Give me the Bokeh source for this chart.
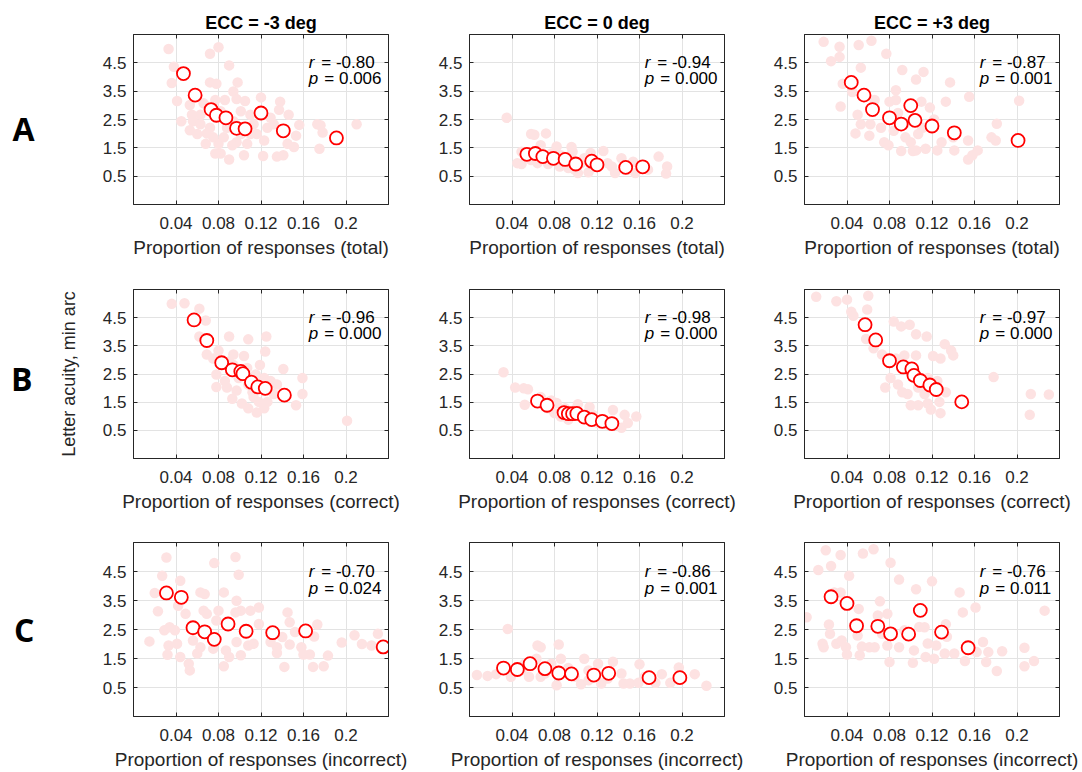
import numpy as np
from bokeh.plotting import figure
from bokeh.layouts import gridplot
from bokeh.models import FixedTicker, Label, LinearAxis
from bokeh.embed import file_html
from bokeh.resources import INLINE

FONT = "Liberation Sans"
X_TICKS = [0.04, 0.08, 0.12, 0.16, 0.2]
X_TICK_LABELS = ["0.04", "0.08", "0.12", "0.16", "0.2"]
Y_TICKS = [0.5, 1.5, 2.5, 3.5, 4.5]
COL_TITLES = ["ECC = -3 deg", "ECC = 0 deg", "ECC = +3 deg"]
ROW_LABELS = ["A", "B", "C"]
ROW_LABEL_Y = [2.2, 2.35, 2.5]
X_LABELS = ["Proportion of responses (total)",
            "Proportion of responses (correct)",
            "Proportion of responses (incorrect)"]
Y_LABEL = "Letter acuity, min arc"
R_VALUES = [["-0.80", "-0.94", "-0.87"],
            ["-0.96", "-0.98", "-0.97"],
            ["-0.70", "-0.86", "-0.76"]]
P_VALUES = [["0.006", "0.000", "0.001"],
            ["0.000", "0.000", "0.000"],
            ["0.024", "0.001", "0.011"]]

# ---------------- Row A (total) ----------------
a1_mean_x = [0.047, 0.058, 0.073, 0.078, 0.087, 0.097, 0.105, 0.120, 0.141, 0.191]
a1_mean_y = [4.12, 3.36, 2.85, 2.65, 2.56, 2.19, 2.17, 2.73, 2.10, 1.85]
a1_ind_x = [0.033, 0.080, 0.072, 0.038, 0.090, 0.036, 0.072, 0.078, 0.098, 0.094, 0.041, 0.053,
            0.066, 0.077, 0.086, 0.097, 0.105, 0.120, 0.138, 0.137, 0.146, 0.156, 0.055, 0.056,
            0.053, 0.063, 0.069, 0.068, 0.080, 0.082, 0.090, 0.104, 0.097, 0.107, 0.116, 0.123,
            0.122, 0.126, 0.132, 0.135, 0.141, 0.145, 0.151, 0.153, 0.173, 0.178, 0.175, 0.210,
            0.045, 0.063, 0.072, 0.085, 0.101, 0.113, 0.129, 0.110, 0.094, 0.088, 0.075, 0.060,
            0.082, 0.101, 0.110, 0.093, 0.077, 0.176]
a1_ind_y = [4.99, 5.05, 4.82, 4.36, 4.41, 3.79, 3.81, 3.76, 3.81, 3.49, 3.15, 3.01,
            3.07, 3.19, 3.19, 3.22, 3.15, 3.28, 3.13, 2.84, 2.67, 2.31, 2.67, 2.44,
            2.12, 2.33, 2.01, 1.64, 1.64, 1.30, 1.09, 1.24, 1.70, 1.64, 1.99, 1.76,
            1.21, 2.21, 2.33, 1.19, 1.24, 1.64, 1.53, 1.93, 2.33, 2.04, 1.47, 2.33,
            2.44, 2.67, 2.21, 1.87, 1.99, 2.33, 2.56, 2.67, 2.44, 2.21, 1.87, 1.99,
            2.79, 2.79, 1.99, 1.59, 1.30, 2.30]

a2_mean_x = [0.054, 0.062, 0.069, 0.079, 0.090, 0.100, 0.115, 0.120, 0.147, 0.163]
a2_mean_y = [1.27, 1.30, 1.19, 1.13, 1.09, 0.93, 1.03, 0.90, 0.81, 0.83]
a2_ind_x = [0.035, 0.058, 0.061, 0.072, 0.049, 0.045, 0.049, 0.067, 0.082, 0.096, 0.097, 0.058,
            0.064, 0.074, 0.085, 0.099, 0.102, 0.112, 0.114, 0.126, 0.121, 0.130, 0.137, 0.143,
            0.149, 0.156, 0.162, 0.168, 0.178, 0.186, 0.185, 0.108, 0.086, 0.077, 0.105, 0.093,
            0.134, 0.154]
a2_ind_y = [2.56, 1.99, 1.96, 2.01, 1.36, 0.96, 0.93, 1.59, 1.55, 1.53, 1.36, 1.07,
            0.96, 0.93, 0.84, 0.73, 0.61, 0.64, 1.32, 1.39, 0.84, 0.96, 0.61, 1.13,
            0.73, 0.61, 0.84, 0.73, 1.19, 0.84, 0.59, 1.13, 1.24, 1.30, 0.96, 0.79,
            0.84, 1.01]

a3_mean_x = [0.044, 0.056, 0.064, 0.080, 0.091, 0.100, 0.104, 0.120, 0.141, 0.201]
a3_mean_y = [3.81, 3.36, 2.85, 2.56, 2.34, 2.99, 2.47, 2.27, 2.03, 1.76]
a3_ind_x = [0.018, 0.033, 0.051, 0.063, 0.077, 0.025, 0.033, 0.053, 0.092, 0.112, 0.105, 0.137,
            0.036, 0.045, 0.086, 0.155, 0.133, 0.202, 0.034, 0.066, 0.080, 0.086, 0.110, 0.118,
            0.050, 0.053, 0.048, 0.061, 0.062, 0.072, 0.075, 0.079, 0.091, 0.102, 0.105, 0.114,
            0.125, 0.129, 0.122, 0.141, 0.140, 0.154, 0.154, 0.163, 0.158, 0.176, 0.180, 0.181,
            0.084, 0.095, 0.107, 0.088, 0.094, 0.100, 0.111]
a3_ind_y = [5.24, 5.07, 5.13, 5.28, 4.82, 4.56, 4.71, 4.33, 4.25, 4.18, 3.91, 3.81,
            3.76, 3.47, 3.53, 3.30, 3.13, 3.16, 2.96, 3.19, 3.13, 3.19, 3.13, 2.92,
            2.67, 2.33, 2.01, 1.93, 2.33, 2.21, 1.70, 1.59, 1.39, 1.39, 1.41, 1.47,
            1.41, 1.70, 2.50, 1.41, 1.87, 1.76, 1.09, 1.41, 1.24, 1.87, 1.76, 2.35,
            2.10, 1.87, 1.99, 2.73, 2.33, 1.70, 2.21]

# ---------------- Row B (correct) ----------------
b1_mean_x = [0.057, 0.069, 0.083, 0.093, 0.101, 0.103, 0.111, 0.117, 0.124, 0.142]
b1_mean_y = [4.42, 3.69, 2.90, 2.65, 2.59, 2.51, 2.21, 2.04, 1.99, 1.75]
b1_ind_x = [0.036, 0.048, 0.062, 0.068, 0.062, 0.090, 0.108, 0.125, 0.069, 0.075, 0.080, 0.094,
            0.104, 0.124, 0.141, 0.159, 0.159, 0.153, 0.201, 0.078, 0.078, 0.086, 0.093, 0.097,
            0.102, 0.108, 0.116, 0.123, 0.113, 0.119, 0.123, 0.129, 0.132, 0.126, 0.107, 0.094,
            0.088, 0.108, 0.115, 0.135, 0.099, 0.112, 0.118, 0.090]
b1_ind_y = [4.99, 5.01, 4.82, 4.40, 3.83, 3.83, 3.73, 3.83, 3.19, 3.05, 3.33, 3.19,
            3.14, 3.30, 2.68, 2.36, 1.79, 1.39, 0.84, 2.48, 2.04, 2.25, 1.62, 1.91,
            1.45, 1.28, 1.13, 1.28, 1.68, 2.82, 2.36, 2.25, 1.79, 1.51, 2.71, 2.82,
            2.02, 2.13, 2.48, 2.13, 2.36, 1.85, 1.51, 2.94]

b2_mean_x = [0.064, 0.073, 0.089, 0.093, 0.097, 0.101, 0.108, 0.115, 0.125, 0.134]
b2_mean_y = [1.54, 1.39, 1.13, 1.09, 1.09, 1.10, 0.97, 0.88, 0.82, 0.74]
b2_ind_x = [0.032, 0.043, 0.051, 0.055, 0.052, 0.067, 0.077, 0.082, 0.090, 0.102, 0.113, 0.080,
            0.093, 0.105, 0.121, 0.135, 0.143, 0.146, 0.149, 0.157, 0.099, 0.116, 0.127, 0.130,
            0.086, 0.074]
b2_ind_y = [2.56, 2.02, 1.99, 1.96, 1.41, 1.68, 1.56, 1.47, 1.28, 1.43, 1.33, 1.11,
            0.88, 0.99, 0.76, 1.22, 0.59, 1.05, 0.76, 0.99, 1.22, 1.05, 0.88, 0.71,
            0.99, 1.28]

b3_mean_x = [0.057, 0.067, 0.080, 0.093, 0.101, 0.103, 0.109, 0.118, 0.124, 0.148]
b3_mean_y = [4.25, 3.71, 2.97, 2.75, 2.68, 2.45, 2.27, 2.11, 1.95, 1.51]
b3_ind_x = [0.011, 0.030, 0.040, 0.060, 0.059, 0.044, 0.046, 0.084, 0.091, 0.099, 0.105, 0.115,
            0.058, 0.065, 0.073, 0.132, 0.138, 0.140, 0.121, 0.128, 0.105, 0.094, 0.086, 0.178,
            0.213, 0.230, 0.212, 0.076, 0.081, 0.088, 0.092, 0.100, 0.107, 0.116, 0.119, 0.128,
            0.127, 0.133, 0.113, 0.097, 0.107, 0.116, 0.125]
b3_ind_y = [5.24, 5.08, 5.14, 5.28, 4.79, 4.71, 4.57, 4.36, 4.19, 4.25, 3.91, 3.83,
            3.74, 3.41, 3.19, 3.56, 3.33, 3.16, 3.14, 3.05, 3.16, 3.16, 3.05, 2.39,
            1.79, 1.77, 1.05, 2.02, 2.36, 2.13, 1.85, 1.39, 1.39, 1.45, 1.24, 1.11,
            1.51, 1.85, 1.79, 1.79, 2.02, 2.36, 2.25]

# ---------------- Row C (incorrect) ----------------
c1_mean_x = [0.031, 0.045, 0.056, 0.067, 0.076, 0.089, 0.106, 0.131, 0.162, 0.235]
c1_mean_y = [3.76, 3.61, 2.56, 2.42, 2.16, 2.69, 2.44, 2.39, 2.45, 1.90]
c1_ind_x = [0.015, 0.020, 0.023, 0.027, 0.031, 0.029, 0.033, 0.032, 0.034, 0.039, 0.041, 0.044,
            0.042, 0.044, 0.049, 0.052, 0.053, 0.056, 0.063, 0.067, 0.060, 0.063, 0.066, 0.069,
            0.076, 0.080, 0.078, 0.075, 0.085, 0.087, 0.090, 0.085, 0.096, 0.099, 0.097, 0.101,
            0.096, 0.097, 0.101, 0.108, 0.113, 0.110, 0.118, 0.118, 0.129, 0.135, 0.135, 0.142,
            0.140, 0.145, 0.147, 0.147, 0.152, 0.158, 0.160, 0.166, 0.170, 0.173, 0.169, 0.179,
            0.196, 0.208, 0.215, 0.224, 0.230, 0.183]
c1_ind_y = [2.09, 3.76, 3.13, 4.35, 4.98, 2.47, 1.95, 1.63, 2.58, 2.47, 2.01, 4.18,
            3.32, 1.55, 3.04, 1.32, 1.09, 2.12, 3.78, 3.72, 1.67, 1.89, 3.15, 3.04,
            4.79, 3.15, 2.81, 1.84, 3.78, 1.78, 1.55, 1.23, 5.00, 4.39, 3.49, 3.15,
            3.09, 2.07, 1.61, 1.95, 2.01, 3.15, 3.26, 2.69, 2.07, 1.89, 1.69, 1.21,
            2.24, 3.09, 2.75, 1.98, 2.41, 1.89, 1.64, 1.64, 2.26, 2.67, 1.21, 1.23,
            2.05, 2.30, 2.00, 1.95, 2.35, 1.60]

c2_mean_x = [0.032, 0.045, 0.057, 0.071, 0.084, 0.096, 0.117, 0.131, 0.169, 0.198]
c2_mean_y = [1.17, 1.12, 1.32, 1.15, 1.00, 0.97, 0.93, 0.99, 0.84, 0.84]
c2_ind_x = [0.007, 0.017, 0.025, 0.036, 0.039, 0.052, 0.063, 0.064, 0.067, 0.056, 0.067, 0.077,
            0.084, 0.086, 0.082, 0.093, 0.105, 0.108, 0.112, 0.121, 0.124, 0.135, 0.130, 0.143,
            0.151, 0.160, 0.159, 0.165, 0.175, 0.181, 0.189, 0.197, 0.212, 0.099, 0.112, 0.145,
            0.071, 0.049, 0.223]
c2_ind_y = [0.93, 0.90, 0.96, 2.52, 0.87, 1.32, 1.49, 1.95, 1.89, 0.87, 0.87, 1.32,
            1.98, 1.49, 0.58, 1.17, 0.61, 1.49, 0.75, 1.32, 0.64, 1.39, 0.81, 0.98,
            0.64, 1.30, 0.66, 0.87, 0.66, 0.96, 0.66, 1.19, 0.96, 0.87, 1.09, 0.64,
            0.98, 1.09, 0.56]

c3_mean_x = [0.025, 0.040, 0.049, 0.069, 0.081, 0.098, 0.109, 0.129, 0.154]
c3_mean_y = [3.63, 3.40, 2.63, 2.61, 2.35, 2.34, 3.16, 2.41, 1.87]
c3_ind_x = [0.002, 0.013, 0.020, 0.025, 0.034, 0.055, 0.065, 0.042, 0.023, 0.024, 0.017, 0.018,
            0.028, 0.034, 0.030, 0.035, 0.039, 0.040, 0.050, 0.052, 0.051, 0.054, 0.061, 0.066,
            0.071, 0.069, 0.073, 0.078, 0.080, 0.081, 0.089, 0.078, 0.089, 0.105, 0.103, 0.102,
            0.108, 0.116, 0.114, 0.120, 0.122, 0.124, 0.133, 0.134, 0.132, 0.141, 0.146, 0.149,
            0.151, 0.161, 0.162, 0.168, 0.171, 0.173, 0.181, 0.186, 0.207, 0.207, 0.216, 0.226,
            0.094, 0.113]
c3_ind_y = [2.92, 4.55, 5.23, 4.69, 5.07, 5.12, 5.27, 4.35, 2.67, 2.35, 2.01, 1.89,
            3.78, 3.78, 2.01, 2.12, 1.89, 1.64, 2.29, 1.61, 3.21, 1.91, 1.89, 1.89,
            3.47, 2.98, 2.35, 3.04, 1.38, 4.80, 4.22, 1.95, 1.89, 3.89, 1.78, 1.35,
            2.59, 2.02, 1.55, 4.16, 1.49, 1.95, 2.68, 2.25, 1.67, 1.67, 3.78, 3.09,
            1.41, 3.26, 1.72, 2.07, 1.38, 1.72, 1.07, 1.75, 1.87, 1.23, 1.41, 3.15,
            2.47, 2.58]

IND = [[(a1_ind_x, a1_ind_y), (a2_ind_x, a2_ind_y), (a3_ind_x, a3_ind_y)],
       [(b1_ind_x, b1_ind_y), (b2_ind_x, b2_ind_y), (b3_ind_x, b3_ind_y)],
       [(c1_ind_x, c1_ind_y), (c2_ind_x, c2_ind_y), (c3_ind_x, c3_ind_y)]]
MEAN = [[(a1_mean_x, a1_mean_y), (a2_mean_x, a2_mean_y), (a3_mean_x, a3_mean_y)],
        [(b1_mean_x, b1_mean_y), (b2_mean_x, b2_mean_y), (b3_mean_x, b3_mean_y)],
        [(c1_mean_x, c1_mean_y), (c2_mean_x, c2_mean_y), (c3_mean_x, c3_mean_y)]]

# layout geometry (pixels)
COL_W = [420, 340, 322]
COL_L = [133, 49, 44]
FRAME_W = 255
ROW_H = [260, 254, 258]
ROW_T = [34, 29, 28]
FRAME_H = 175

AX_COLOR = "#262626"
PINK = "#fde2e2"
RED = "#ff0000"


def box_axis(ticks):
    return LinearAxis(ticker=FixedTicker(ticks=ticks), axis_line_color=AX_COLOR,
                      major_tick_line_color=AX_COLOR, major_tick_in=4, major_tick_out=0,
                      minor_tick_line_color=None, major_label_text_color=None,
                      major_label_text_font_size="1px", major_label_standoff=0)


figs = []
for r in range(3):
    row_figs = []
    for c in range(3):
        W, H = COL_W[c], ROW_H[r]
        p = figure(width=W, height=H, x_range=(0, 0.24), y_range=(-0.5, 5.5),
                   output_backend="svg", toolbar_location=None,
                   min_border_left=COL_L[c], min_border_right=W - COL_L[c] - FRAME_W,
                   min_border_top=ROW_T[r], min_border_bottom=H - ROW_T[r] - FRAME_H)
        p.background_fill_color = "white"
        p.border_fill_color = "white"
        p.outline_line_color = AX_COLOR

        ix, iy = IND[r][c]
        mx, my = MEAN[r][c]
        p.scatter(ix, iy, size=10.5, fill_color=PINK, line_color=None)
        p.scatter(mx, my, size=13, fill_color="white", line_color=RED, line_width=1.8)

        xax = p.xaxis[0]
        yax = p.yaxis[0]
        xax.ticker = FixedTicker(ticks=X_TICKS)
        xax.major_label_overrides = {t: l for t, l in zip(X_TICKS, X_TICK_LABELS)}
        yax.ticker = FixedTicker(ticks=Y_TICKS)
        for ax in (xax, yax):
            ax.axis_line_color = AX_COLOR
            ax.major_tick_line_color = AX_COLOR
            ax.major_tick_in = 4
            ax.major_tick_out = 0
            ax.minor_tick_line_color = None
            ax.major_label_text_font = FONT
            ax.major_label_text_font_size = "17px"
            ax.major_label_text_color = AX_COLOR
        yax.major_label_standoff = 7
        xax.major_label_standoff = 12
        xax.axis_label = X_LABELS[r]
        xax.axis_label_text_font = FONT
        xax.axis_label_text_font_size = "19px"
        xax.axis_label_text_font_style = "normal"
        xax.axis_label_text_color = AX_COLOR
        xax.axis_label_standoff = 5
        p.xgrid.grid_line_color = "#e3e3e3"
        p.ygrid.grid_line_color = "#e3e3e3"

        # r / p annotations
        ry, py = 4.5, 3.93
        p.add_layout(Label(x=0.165, y=ry, text="r", text_font=FONT, text_font_style="italic",
                           text_font_size="17px", text_baseline="middle", text_color="black"))
        p.add_layout(Label(x=0.165, y=ry, x_offset=12.5, text="= " + R_VALUES[r][c], text_font=FONT,
                           text_font_size="17px", text_baseline="middle", text_color="black"))
        p.add_layout(Label(x=0.165, y=py, text="p", text_font=FONT, text_font_style="italic",
                           text_font_size="17px", text_baseline="middle", text_color="black"))
        p.add_layout(Label(x=0.165, y=py, x_offset=15.5, text="= " + P_VALUES[r][c], text_font=FONT,
                           text_font_size="17px", text_baseline="middle", text_color="black"))

        if r == 0:
            p.title.text = COL_TITLES[c]
            p.title.align = "center"
            p.title.text_font = FONT
            p.title.text_font_size = "18px"
            p.title.text_font_style = "bold"
            p.title.text_color = "black"
            p.title.standoff = 4
        if c == 0:
            if r == 1:
                yax.axis_label = Y_LABEL
                yax.axis_label_text_font = FONT
                yax.axis_label_text_font_size = "18px"
                yax.axis_label_text_font_style = "normal"
                yax.axis_label_text_color = AX_COLOR
                yax.axis_label_standoff = 21
            row_ax = LinearAxis(ticker=FixedTicker(ticks=[ROW_LABEL_Y[r]]),
                                major_label_overrides={ROW_LABEL_Y[r]: ROW_LABELS[r]},
                                axis_line_color=None, major_tick_line_color=None,
                                minor_tick_line_color=None,
                                major_label_text_font="Open Sans",
                                major_label_text_font_style="bold",
                                major_label_text_font_size="32px",
                                major_label_text_color="black",
                                major_label_standoff=17 if r == 1 else 59)
            p.add_layout(row_ax, "left")

        # box: top and right edges with inward ticks
        p.add_layout(box_axis(X_TICKS), "above")
        p.add_layout(box_axis(Y_TICKS), "right")
        row_figs.append(p)
    figs.append(row_figs)

grid = gridplot(figs, toolbar_location=None)
open("out.html", "w").write(file_html(grid, INLINE))
